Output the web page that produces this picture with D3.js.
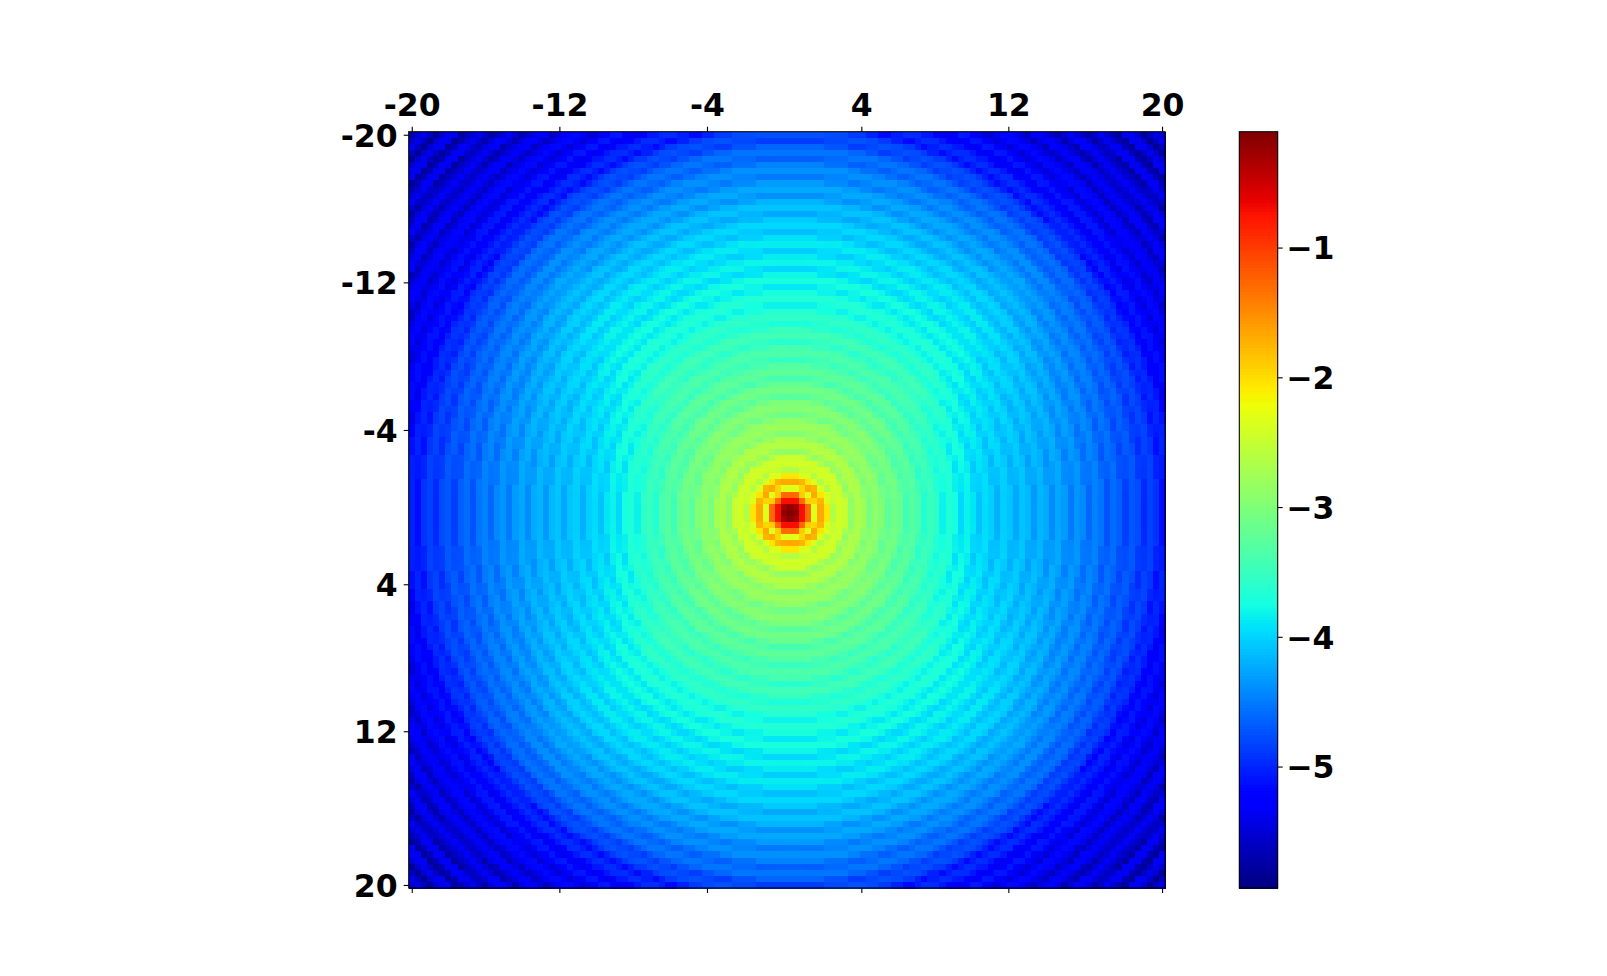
<!DOCTYPE html>
<html><head><meta charset="utf-8">
<script src="https://cdn.jsdelivr.net/npm/d3@7"></script>
<style>html,body{margin:0;background:#fff}svg{display:block}
text{font-family:"DejaVu Sans";font-weight:700;font-size:31.5px;fill:#000}</style></head>
<body><svg id="c" width="1607" height="976"></svg>
<script>
// Radial profile of log-intensity read along the centre row, one entry per half cell of radius.
const profile = [
-0.11,-0.12,-0.2,-0.3,-0.72,-0.95,-1.28,-1.9,-2.32,-1.95,-1.68,-1.75,
-2.05,-2.35,-2.65,-2.5,-2.42,-2.42,-2.48,-2.7,-2.88,-2.8,-2.68,-2.68,
-2.75,-2.9,-3.05,-2.98,-2.9,-2.9,-2.98,-3.1,-3.25,-3.18,-3.1,-3.1,
-3.18,-3.3,-3.45,-3.38,-3.3,-3.3,-3.38,-3.5,-3.65,-3.58,-3.5,-3.5,
-3.57,-3.68,-3.82,-3.75,-3.68,-3.68,-3.74,-3.85,
-3.97,-3.9,-3.82,-3.82,-3.89,-4.0,
-4.1,-4.03,-3.95,-3.95,-4.02,-4.12,
-4.2,-4.12,-4.03,-4.03,-4.09,-4.18,
-4.25,-4.17,-4.09,-4.09,-4.15,-4.25,
-4.33,-4.25,-4.17,-4.17,-4.23,-4.33,
-4.41,-4.33,-4.25,-4.25,-4.32,-4.42,
-4.51,-4.44,-4.36,-4.36,-4.43,-4.53,
-4.62,-4.55,-4.47,-4.47,-4.54,-4.64,
-4.74,-4.67,-4.59,-4.59,-4.66,-4.76,
-4.85,-4.78,-4.71,-4.71,-4.78,-4.88,
-4.98,-4.91,-4.84,-4.84,-4.92,-5.02,
-5.15,-5.08,-5.02,-5.05,-5.14,-5.28,
-5.42,-5.3,-5.2,-5.2,-5.3,-5.42,
-5.55,-5.4,-5.25,-5.25,-5.38,-5.5,
-5.62,-5.45,-5.28,-5.28,-5.42,-5.55,
-5.68,-5.5,-5.3,-5.3,-5.45,-5.6,
-5.72,-5.52,-5.32,-5.32,-5.48,-5.62,
-5.76,-5.55,-5.34,-5.34,-5.5,-5.66,
-5.8,-5.58,-5.36,-5.36,-5.52,-5.7,
-5.84,-5.6,-5.38,-5.38,-5.55,-5.72,
-5.88,-5.88,-5.88];
// How much brighter the picture reads away from the centre row, at these radii.
const offAxisRadius = [0,8,14,20,25,30,35,40,45,50,55,60,65,70,75,80,90];
const offAxisLift   = [0,0,.1,.2,.3,.4,.38,.36,.4,.38,.34,.3,.25,.13,.04,0,0];
const gridSize = 124, peakIndex = 62;
const tickIndex = [0,24.2,48.4,73.7,97.8,123];
const tickLabels = ["-20","-12","-4","4","12","20"];
const cbarTicks = [-1,-2,-3,-4,-5];
const vMin = -5.936, vMax = -0.107;
const jetR = [[0,0],[0.35,0],[0.66,1],[0.89,1],[1,0.5]];
const jetG = [[0,0],[0.125,0],[0.375,1],[0.64,1],[0.91,0],[1,0]];
const jetB = [[0,0.5],[0.11,1],[0.34,1],[0.65,0],[1,0]];

const chan = s => d3.scaleLinear(s.map(d=>d[0]), s.map(d=>d[1])).clamp(true);
const R=chan(jetR), G=chan(jetG), B=chan(jetB);
const norm = d3.scaleLinear([vMin,vMax],[0,1]).clamp(true);
const color = v => { const t=norm(v); return d3.rgb(Math.floor(R(t)*255),Math.floor(G(t)*255),Math.floor(B(t)*255)).formatHex(); };
const lift = d3.scaleLinear(offAxisRadius,offAxisLift).clamp(true);

const L=408.7,Rt=1165.1,T=131.7,Bt=888;
const svg=d3.select("#c");
const idx=d3.range(gridSize);
const xb=d3.scaleBand(idx,[L,Rt]), yb=d3.scaleBand(idx,[T,Bt]);
const cells=[];
idx.forEach(j=>idx.forEach(i=>{
  const dx=i-peakIndex, dy=j-peakIndex, r=Math.hypot(dx,dy);
  const s2=r?dy*dy/(r*r):0;
  const v=profile[Math.min(profile.length-1,Math.round(r*2))]+lift(r)*Math.min(1,2*s2);
  cells.push({i,j,v});
}));
svg.append("g").attr("shape-rendering","crispEdges").selectAll("rect").data(cells).join("rect")
 .attr("x",d=>xb(d.i)).attr("y",d=>yb(d.j)).attr("width",xb.bandwidth()+.5).attr("height",yb.bandwidth()+.5)
 .attr("fill",d=>color(d.v));
svg.append("rect").attr("x",L).attr("y",T).attr("width",Rt-L).attr("height",Bt-T).attr("fill","none").attr("stroke","#000").attr("stroke-width",1.1);

const xs=d3.scaleLinear([-.5,gridSize-.5],[L,Rt]), ys=d3.scaleLinear([-.5,gridSize-.5],[T,Bt]);
const lab=i=>tickLabels[tickIndex.indexOf(i)];
const style=g=>{g.select(".domain").remove();g.selectAll("line").attr("stroke","#000").attr("stroke-width",1.1);g.selectAll("text").attr("fill","#000").attr("font-size",null).attr("font-family",null);};
svg.append("g").attr("transform",`translate(0,${T})`).call(d3.axisTop(xs).tickValues(tickIndex).tickFormat(lab).tickSize(5).tickPadding(10.5)).call(style);
svg.append("g").attr("transform",`translate(0,${Bt})`).call(d3.axisBottom(xs).tickValues(tickIndex).tickFormat("").tickSize(5)).call(style);
svg.append("g").attr("transform",`translate(${L},0)`).call(d3.axisLeft(ys).tickValues(tickIndex).tickFormat(lab).tickSize(5).tickPadding(6)).call(style).selectAll("text").attr("dy",".36em");

// colour bar
const cL=1239.3,cR=1277.7;
const cy=d3.scaleLinear([vMin,vMax],[Bt,T]);
const levels=d3.range(256).map(k=>vMin+(vMax-vMin)*(k+.5)/256);
const step=(Bt-T)/256;
svg.append("g").attr("shape-rendering","crispEdges").selectAll("rect").data(levels).join("rect")
 .attr("x",cL).attr("width",cR-cL).attr("y",d=>cy(d)-step/2).attr("height",step+.6).attr("fill",color);
svg.append("rect").attr("x",cL).attr("y",T).attr("width",cR-cL).attr("height",Bt-T).attr("fill","none").attr("stroke","#000").attr("stroke-width",1.1);
svg.append("g").attr("transform",`translate(${cR},0)`).call(d3.axisRight(cy).tickValues(cbarTicks).tickFormat(d=>"\u2212"+Math.abs(d)).tickSize(5).tickPadding(3.5)).call(style).selectAll("text").attr("dy",".36em");
</script></body></html>
